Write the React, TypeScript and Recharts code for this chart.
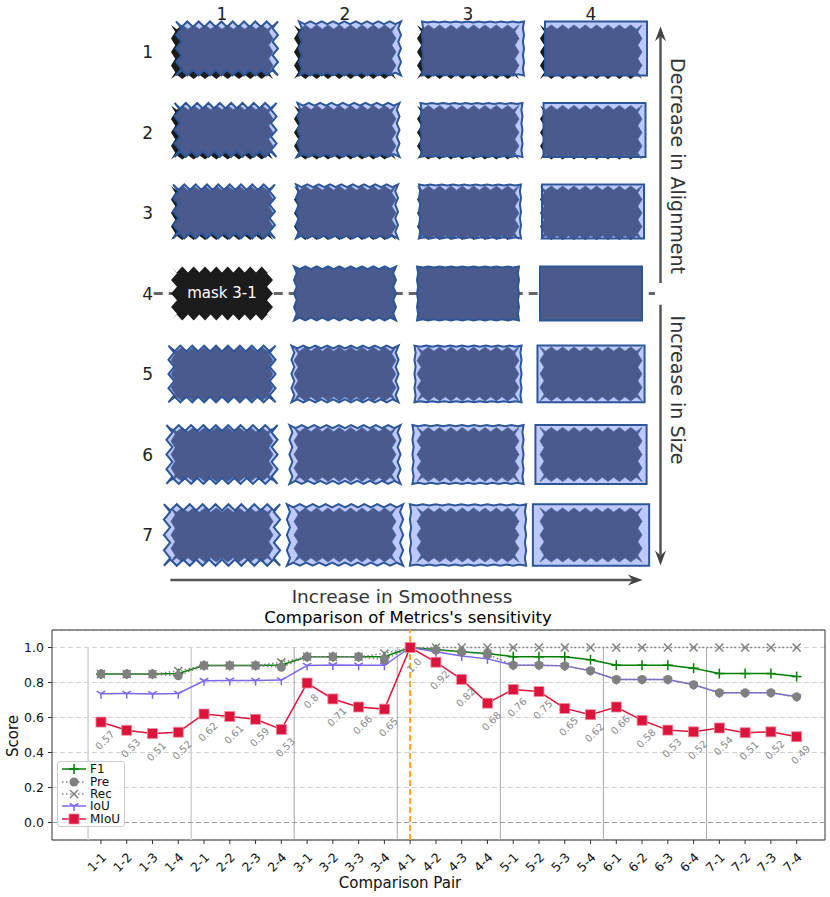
import React from "react";
import {
  ScatterChart,
  Scatter,
  LineChart,
  Line,
  XAxis,
  YAxis,
  CartesianGrid,
  ReferenceLine,
  ReferenceArea,
  LabelList,
  Legend,
} from "recharts";

const FONT = "DejaVu Sans, sans-serif";

// ---------- mask grid (top) ----------
const gridCols = [1, 2, 3, 4];
const gridRows = [1, 2, 3, 4, 5, 6, 7];
// prediction vs. mask 3-1, per row: offset (alignment) and size factor
const rowShiftX = [5, 3.5, 2, 0, 0, 0, 0];
const rowShiftY = [-3.5, -2.5, -1.5, 0, 0, 0, 0];
const rowScale = [1, 1, 1, 1, 1.05, 1.09, 1.14];
// per column: share of tooth depth left after smoothing
const colTooth = [1, 0.5, 0.2, 0];
const referenceCell = { row: 4, col: 1, label: "mask 3-1" };

const cells = gridRows.flatMap((row) => gridCols.map((col) => ({ row, col })));

// ---------- metrics (bottom) ----------
const pairs = [
  "1-1", "1-2", "1-3", "1-4", "2-1", "2-2", "2-3", "2-4",
  "3-1", "3-2", "3-3", "3-4", "4-1", "4-2", "4-3", "4-4",
  "5-1", "5-2", "5-3", "5-4", "6-1", "6-2", "6-3", "6-4",
  "7-1", "7-2", "7-3", "7-4",
];
const f1 = [0.848, 0.848, 0.848, 0.851, 0.897, 0.897, 0.897, 0.9, 0.947, 0.947, 0.947, 0.947, 1.0, 0.989, 0.976, 0.966, 0.947, 0.947, 0.947, 0.93, 0.899, 0.899, 0.899, 0.882, 0.851, 0.851, 0.851, 0.834];
const pre = [0.848, 0.848, 0.848, 0.838, 0.897, 0.897, 0.897, 0.887, 0.947, 0.947, 0.947, 0.93, 1.0, 0.985, 0.975, 0.962, 0.899, 0.899, 0.895, 0.867, 0.817, 0.817, 0.817, 0.787, 0.741, 0.741, 0.741, 0.718];
const rec = [0.848, 0.848, 0.848, 0.866, 0.897, 0.897, 0.897, 0.915, 0.947, 0.947, 0.947, 0.966, 1.0, 1.0, 1.0, 1.0, 1.0, 1.0, 1.0, 1.0, 1.0, 1.0, 1.0, 1.0, 1.0, 1.0, 1.0, 1.0];
const iou = [0.736, 0.737, 0.735, 0.737, 0.81, 0.812, 0.811, 0.814, 0.897, 0.9, 0.898, 0.898, 1.0, 0.976, 0.952, 0.935, 0.899, 0.899, 0.895, 0.867, 0.817, 0.817, 0.817, 0.787, 0.741, 0.741, 0.741, 0.718];
const miou = [0.574, 0.527, 0.508, 0.516, 0.62, 0.606, 0.59, 0.532, 0.797, 0.706, 0.66, 0.648, 1.0, 0.916, 0.818, 0.682, 0.76, 0.748, 0.652, 0.616, 0.66, 0.584, 0.528, 0.518, 0.54, 0.513, 0.518, 0.49];
const sectionBounds = [-0.5, 3.5, 7.5, 11.5, 15.5, 19.5, 23.5];
const scoreTicks = [0, 0.2, 0.4, 0.6, 0.8, 1.0];
const pairIdx = pairs.map((_, i) => i);

const metricRows = pairs.map((pair, i) => ({
  i,
  pair,
  f1: f1[i],
  pre: pre[i],
  rec: rec[i],
  iou: iou[i],
  miou: miou[i],
}));

const metricSeries = [
  { key: "f1", name: "F1", color: "#008000", dash: undefined, marker: "plus" },
  { key: "pre", name: "Pre", color: "#808080", dash: "1.5 2.5", marker: "circle" },
  { key: "rec", name: "Rec", color: "#808080", dash: "1.5 2.5", marker: "x" },
  { key: "iou", name: "IoU", color: "#7b68ee", dash: undefined, marker: "tri" },
  { key: "miou", name: "MIoU", color: "#dc143c", dash: undefined, marker: "square" },
];
const drawOrder = ["f1", "iou", "pre", "rec", "miou"];

function jagged(cx: number, cy: number, hw: number, hh: number, amp: number, nx: number, ny: number) {
  const pts: number[][] = [];
  for (let i = 0; i < 2 * nx; i++) pts.push([cx - hw + (i / (2 * nx)) * 2 * hw, cy - hh + (i % 2 ? amp : 0)]);
  for (let i = 0; i < 2 * ny; i++) pts.push([cx + hw - (i % 2 ? amp : 0), cy - hh + (i / (2 * ny)) * 2 * hh]);
  for (let i = 0; i < 2 * nx; i++) pts.push([cx + hw - (i / (2 * nx)) * 2 * hw, cy + hh - (i % 2 ? amp : 0)]);
  for (let i = 0; i < 2 * ny; i++) pts.push([cx - hw + (i % 2 ? amp : 0), cy + hh - (i / (2 * ny)) * 2 * hh]);
  return "M" + pts.map((p) => p[0].toFixed(2) + "," + p[1].toFixed(2)).join("L") + "Z";
}

function MaskCell(props: any) {
  const { cx, cy, payload } = props;
  const { row, col } = payload;
  const hw = 51, hh = 27, nx = 9, ny = 4;
  if (row === referenceCell.row && col === referenceCell.col) {
    return (
      <g>
        <path d={jagged(cx, cy, hw, hh, 6, nx, ny)} fill="#1b1b1b" />
        <text x={cx} y={cy} textAnchor="middle" dominantBaseline="central" fill="#fff" fontSize={15} fontFamily={FONT}>
          {referenceCell.label}
        </text>
      </g>
    );
  }
  const amp = 4.2;
  const gt = jagged(cx, cy, hw, hh, amp, nx, ny);
  const s = rowScale[row - 1];
  const px = cx + rowShiftX[row - 1];
  const py = cy + rowShiftY[row - 1];
  const pred = jagged(px, py, hw * s, hh * s, 5.5 * s * colTooth[col - 1], nx, ny);
  // aligned row: prediction fully covers the mask region drawn
  const gtDrawn = row === referenceCell.row ? pred : gt;
  const id = `clip-${row}-${col}`;
  return (
    <g>
      <defs>
        <clipPath id={id}>
          <path d={pred} />
        </clipPath>
      </defs>
      <path d={gtDrawn} fill="#1b1b1b" />
      <path d={pred} fill="#bdc8fd" />
      <path d={gtDrawn} fill="#4b5a8c" stroke="#4767a6" strokeWidth={0.8} clipPath={`url(#${id})`} />
      <path d={pred} fill="none" stroke="#2d5699" strokeWidth={2} />
    </g>
  );
}

function ArrowShape(props: any) {
  const { x1, y1, x2, y2 } = props;
  const ang = Math.atan2(y2 - y1, x2 - x1);
  const ux = Math.cos(ang), uy = Math.sin(ang);
  const px = -uy, py = ux;
  const L = 15, W = 5.5, N = 10;
  const pts = [
    [x2, y2],
    [x2 - ux * L + px * W, y2 - uy * L + py * W],
    [x2 - ux * N, y2 - uy * N],
    [x2 - ux * L - px * W, y2 - uy * L - py * W],
  ];
  return (
    <g>
      <line x1={x1} y1={y1} x2={x2 - ux * N} y2={y2 - uy * N} stroke="#555" strokeWidth={2.5} />
      <polygon points={pts.map((p) => p.join(",")).join(" ")} fill="#444" />
    </g>
  );
}

function Marker({ kind, x, y, color }: { kind: string; x: number; y: number; color: string }) {
  if (kind === "plus")
    return (
      <g stroke={color} strokeWidth={1.5}>
        <line x1={x - 5} y1={y} x2={x + 5} y2={y} />
        <line x1={x} y1={y - 5} x2={x} y2={y + 5} />
      </g>
    );
  if (kind === "circle") return <circle cx={x} cy={y} r={4.5} fill={color} />;
  if (kind === "x")
    return (
      <g stroke={color} strokeWidth={1.5}>
        <line x1={x - 4} y1={y - 4} x2={x + 4} y2={y + 4} />
        <line x1={x - 4} y1={y + 4} x2={x + 4} y2={y - 4} />
      </g>
    );
  if (kind === "tri")
    return (
      <g stroke={color} strokeWidth={1.5}>
        <line x1={x} y1={y} x2={x} y2={y + 5} />
        <line x1={x} y1={y} x2={x - 4.3} y2={y - 2.5} />
        <line x1={x} y1={y} x2={x + 4.3} y2={y - 2.5} />
      </g>
    );
  return <rect x={x - 5} y={y - 5} width={10} height={10} fill={color} stroke="#f08ca0" strokeWidth={0.8} />;
}

function fmtScore(v: number) {
  const r = Math.round(v * 100) / 100;
  return Number.isInteger(r) ? r.toFixed(1) : String(r);
}

function MiouLabel(props: any) {
  const { x, y, value } = props;
  const tx = x + 4, ty = y + 18;
  return (
    <text x={tx} y={ty} transform={`rotate(-45 ${tx} ${ty})`} textAnchor="middle" dominantBaseline="central" fontSize={10} fontFamily={FONT} fill="#8a8a8a">
      {fmtScore(value)}
    </text>
  );
}

function PairTick(props: any) {
  const { x, y, payload } = props;
  const tx = x + 3, ty = y + 9;
  return (
    <text x={tx} y={ty} transform={`rotate(-45 ${tx} ${ty})`} textAnchor="end" dominantBaseline="central" fontSize={12.5} fontFamily={FONT} fill="#111">
      {pairs[payload.value]}
    </text>
  );
}

function MetricLegend() {
  return (
    <div
      style={{
        border: "1px solid #ccc",
        borderRadius: 3,
        background: "rgba(255,255,255,0.85)",
        padding: "1px 4px 1px 2px",
        fontFamily: FONT,
        fontSize: 12,
        color: "#111",
      }}
    >
      {metricSeries.map((s) => (
        <div key={s.key} style={{ display: "flex", alignItems: "center", height: 12.4 }}>
          <svg width={27} height={12}>
            <line x1={2} y1={6} x2={26} y2={6} stroke={s.color} strokeWidth={1.5} strokeDasharray={s.dash} />
            <Marker kind={s.marker} x={14} y={6} color={s.color} />
          </svg>
          <span style={{ marginLeft: 3 }}>{s.name}</span>
        </div>
      ))}
    </div>
  );
}

export default function App() {
  return (
    <div style={{ position: "relative", width: 830, height: 897, fontFamily: FONT }}>
      <style>{`body{margin:0}`}</style>

      <div style={{ position: "absolute", left: 0, top: 0 }}>
        <ScatterChart width={830} height={610} margin={{ top: 0, right: 0, bottom: 0, left: 0 }}>
          <XAxis
            type="number"
            dataKey="col"
            orientation="top"
            domain={[0.4553, 5.943]}
            ticks={gridCols}
            height={25}
            axisLine={false}
            tickLine={false}
            tickSize={0}
            tickMargin={5}
            tick={{ fontSize: 17, fill: "#222", fontFamily: FONT }}
          />
          <YAxis
            type="number"
            dataKey="row"
            reversed
            domain={[0.665, 7.932]}
            ticks={gridRows}
            width={155}
            axisLine={false}
            tickLine={false}
            tickSize={0}
            tickMargin={2}
            tick={{ fontSize: 17, fill: "#222", fontFamily: FONT }}
          />
          <ReferenceLine
            segment={[{ x: 0.445, y: 4 }, { x: 4.52, y: 4 }]}
            ifOverflow="visible"
            stroke="#666"
            strokeWidth={3}
            strokeDasharray="9 6"
            zIndex={-10}
          />
          <Scatter data={cells} isAnimationActive={false} shape={(p: any) => <MaskCell {...p} />} />
          <ReferenceLine segment={[{ x: 4.565, y: 3.87 }, { x: 4.565, y: 0.68 }]} ifOverflow="visible" shape={(p: any) => <ArrowShape {...p} />} />
          <ReferenceLine segment={[{ x: 4.565, y: 4.14 }, { x: 4.565, y: 7.38 }]} ifOverflow="visible" shape={(p: any) => <ArrowShape {...p} />} />
          <ReferenceLine segment={[{ x: 0.58, y: 7.56 }, { x: 4.42, y: 7.56 }]} ifOverflow="visible" shape={(p: any) => <ArrowShape {...p} />} />
        </ScatterChart>
      </div>

      <div style={{ position: "absolute", left: 0, top: 610 }}>
        <LineChart width={830} height={287} data={metricRows} margin={{ top: 20, right: 5, bottom: 12, left: 12 }}>
          <CartesianGrid vertical={false} stroke="#cfcfcf" strokeDasharray="5 3" />
          {sectionBounds.map((b, k) => (
            <ReferenceLine
              key={b}
              segment={[{ x: b, y: -0.1 }, { x: b, y: 1.0 }]}
              stroke={k < 2 ? "#d4d4d4" : "#a8a8a8"}
              strokeWidth={k < 2 ? 1.6 : 1}
            />
          ))}
          <ReferenceLine y={0} stroke="#9a9a9a" strokeDasharray="5 3" />
          <ReferenceLine x={12} stroke="#ffa500" strokeWidth={2} strokeDasharray="6 3" />
          <ReferenceArea x1={-1.9} x2={28.1} y1={-0.1} y2={1.1} fill="none" fillOpacity={0} stroke="#333" strokeWidth={1} />
          <XAxis
            type="number"
            dataKey="i"
            domain={[-1.9, 28.1]}
            ticks={pairIdx}
            interval={0}
            tick={<PairTick />}
            tickLine={{ stroke: "#333" }}
            tickSize={4}
            tickMargin={2}
            axisLine={false}
            height={45}
          />
          <YAxis
            type="number"
            domain={[-0.1, 1.1]}
            ticks={scoreTicks}
            tickFormatter={(v: number) => v.toFixed(1)}
            tick={{ fontSize: 12.5, fill: "#111", fontFamily: FONT }}
            tickLine={{ stroke: "#333" }}
            tickSize={4}
            tickMargin={4}
            axisLine={false}
            width={40}
          />
          {drawOrder.map((k) => {
            const s = metricSeries.find((m) => m.key === k)!;
            return (
              <Line
                key={k}
                dataKey={k}
                name={s.name}
                stroke={s.color}
                strokeWidth={1.5}
                strokeDasharray={s.dash}
                isAnimationActive={false}
                dot={(p: any) => <Marker key={`${k}-${p.index}`} kind={s.marker} x={p.cx} y={p.cy} color={s.color} />}
                activeDot={false}
              >
                {k === "miou" && <LabelList dataKey="miou" content={<MiouLabel />} />}
              </Line>
            );
          })}
          <Legend
            layout="vertical"
            verticalAlign="middle"
            align="center"
            content={() => <MetricLegend />}
            wrapperStyle={{ left: 57, top: 151, width: "auto" }}
          />
        </LineChart>
      </div>

      <svg width={830} height={897} style={{ position: "absolute", left: 0, top: 0, pointerEvents: "none" }}>
        <text x={678} y={166} transform="rotate(90 678 166)" textAnchor="middle" dominantBaseline="central" fontSize={19} fontFamily={FONT} fill="#333">
          Decrease in Alignment
        </text>
        <text x={678} y={390} transform="rotate(90 678 390)" textAnchor="middle" dominantBaseline="central" fontSize={19} fontFamily={FONT} fill="#333">
          Increase in Size
        </text>
        <text x={402} y={603} textAnchor="middle" fontSize={18.5} fontFamily={FONT} fill="#333">
          Increase in Smoothness
        </text>
        <text x={408} y={623} textAnchor="middle" fontSize={16.5} fontFamily={FONT} fill="#000">
          Comparison of Metrics's sensitivity
        </text>
        <text x={13} y={736} transform="rotate(-90 13 736)" textAnchor="middle" dominantBaseline="central" fontSize={15} fontFamily={FONT} fill="#111">
          Score
        </text>
        <text x={400} y={888} textAnchor="middle" fontSize={15} fontFamily={FONT} fill="#111">
          Comparison Pair
        </text>
      </svg>
    </div>
  );
}
